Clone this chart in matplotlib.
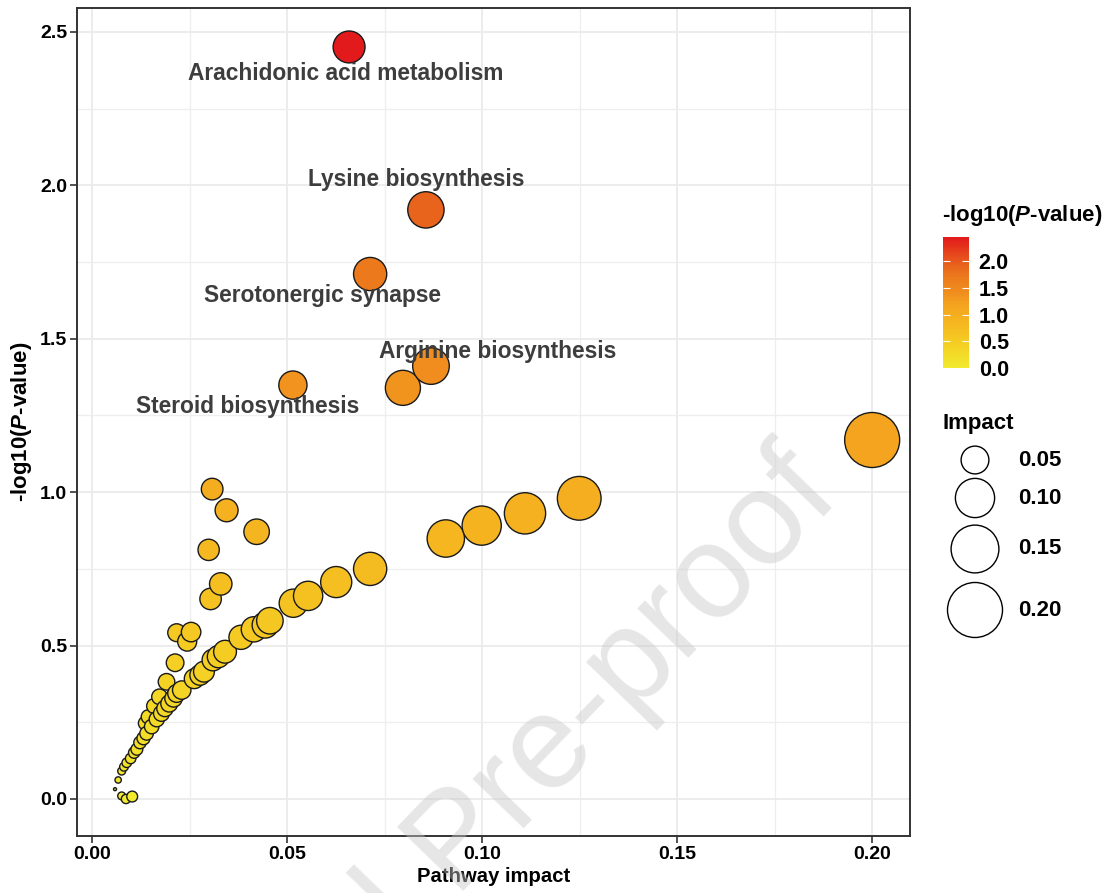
import numpy as np
import matplotlib.pyplot as plt
from matplotlib.colors import LinearSegmentedColormap, Normalize
from matplotlib.cm import ScalarMappable
from matplotlib.ticker import MultipleLocator

plt.rcParams['font.family'] = ['Liberation Sans', 'DejaVu Sans']
plt.rcParams['font.weight'] = 'bold'
plt.rcParams['mathtext.fontset'] = 'custom'
plt.rcParams['mathtext.rm'] = 'Liberation Sans:bold'
plt.rcParams['mathtext.bfit'] = 'Liberation Sans:italic:bold'

# pathway impact (x, also size) and -log10(P) (y, also colour)
impact = [0.0659, 0.0856, 0.0713, 0.0869, 0.0797, 0.0515, 0.2000,
          0.1249, 0.1110, 0.0999, 0.0907, 0.0713, 0.0626, 0.0554, 0.0516,
          0.0456, 0.0444, 0.0415, 0.0382, 0.0341, 0.0324, 0.0310, 0.0287,
          0.0277, 0.0262, 0.0230, 0.0217, 0.0209, 0.0198, 0.0187, 0.0178,
          0.0166, 0.0153,
          0.0308, 0.0345, 0.0422, 0.0299, 0.0330, 0.0304, 0.0217, 0.0254,
          0.0244, 0.0213, 0.0191, 0.0173, 0.0159, 0.0144, 0.0136,
          0.0140, 0.0132, 0.0123, 0.0115, 0.0108, 0.0099, 0.0089, 0.0082,
          0.0076, 0.0067, 0.0059, 0.0076, 0.0087, 0.0103]
logp = [2.451, 1.920, 1.711, 1.411, 1.340, 1.349, 1.170,
        0.980, 0.931, 0.891, 0.849, 0.750, 0.707, 0.662, 0.638,
        0.581, 0.567, 0.553, 0.527, 0.480, 0.464, 0.453, 0.415,
        0.404, 0.392, 0.355, 0.344, 0.328, 0.311, 0.295, 0.279,
        0.260, 0.236,
        1.010, 0.941, 0.871, 0.812, 0.701, 0.652, 0.542, 0.544,
        0.513, 0.444, 0.382, 0.333, 0.303, 0.268, 0.247,
        0.214, 0.198, 0.184, 0.162, 0.151, 0.132, 0.118, 0.105,
        0.091, 0.062, 0.032, 0.010, 0.000, 0.008]

label_names = ['Arachidonic acid metabolism', 'Lysine biosynthesis',
               'Serotonergic synapse', 'Arginine biosynthesis',
               'Steroid biosynthesis']
# where the label text sits (data units)
label_pos = [(0.0651, 2.363), (0.0831, 2.018), (0.0592, 1.640),
             (0.1041, 1.457), (0.0400, 1.278)]

legend_vals = [0.05, 0.10, 0.15, 0.20]

x = np.array(impact)
y = np.array(logp)

cmap = LinearSegmentedColormap.from_list('pv', [
    (0.00, '#F1EA2D'), (0.20, '#F5CC22'), (0.35, '#F5B520'),
    (0.48, '#F4A41F'), (0.56, '#F0901E'), (0.70, '#EC7A1D'),
    (0.78, '#E8641C'), (1.00, '#E31A1C')])
norm = Normalize(0, y.max())

xmin, xmax = x.min(), x.max()


def size_pt2(v):
    # ggplot-like area scale: diameter 3..55 px
    d = 3 + 52 * np.sqrt((np.asarray(v) - xmin) / (xmax - xmin))
    return (d * 0.72) ** 2


W, H = 1117, 893
fig = plt.figure(figsize=(W / 100, H / 100), dpi=100)
ax = fig.add_axes([77 / W, 1 - 836 / H, 833 / W, 828 / H])

order = np.argsort(x)
ax.scatter(x[order], y[order], s=size_pt2(x[order]), c=y[order], cmap=cmap,
           norm=norm, edgecolors='#1a1a1a', linewidths=1.0, zorder=3)

for name, (lx, ly) in zip(label_names, label_pos):
    ax.text(lx, ly, name, ha='center', va='center', fontsize=16.4,
            fontweight='bold', color='#3d3d3d', zorder=4)

ax.set_xlim(-0.00385, 0.2097)
ax.set_ylim(-0.1206, 2.578)
ax.set_xticks([0, 0.05, 0.10, 0.15, 0.20])
ax.set_xticklabels(['0.00', '0.05', '0.10', '0.15', '0.20'])
ax.set_yticks([0, 0.5, 1.0, 1.5, 2.0, 2.5])
ax.set_yticklabels(['0.0', '0.5', '1.0', '1.5', '2.0', '2.5'])
ax.xaxis.set_minor_locator(MultipleLocator(0.025))
ax.yaxis.set_minor_locator(MultipleLocator(0.25))
ax.set_axisbelow(True)
ax.grid(which='major', color='#EBEBEB', lw=1.3)
ax.grid(which='minor', color='#EEEEEE', lw=0.9)
ax.tick_params(which='minor', length=0)
ax.tick_params(which='major', length=5, width=1.2, color='#333333',
               labelsize=14, pad=2)
for t in ax.get_xticklabels() + ax.get_yticklabels():
    t.set_fontweight('bold')
for sp in ax.spines.values():
    sp.set_color('#333333')
    sp.set_linewidth(1.4)

ax.set_xlabel('Pathway impact', fontsize=14.6, fontweight='bold', labelpad=3)
ax.set_ylabel(r'-log10($\mathbfit{P}$-value)', fontsize=16,
              fontweight='bold', labelpad=4)

# colour bar
cax = fig.add_axes([943 / W, 1 - 368 / H, 26 / W, 131 / H])
cb = fig.colorbar(ScalarMappable(norm=norm, cmap=cmap), cax=cax)
cb.outline.set_visible(False)
cb.set_ticks([0, 0.5, 1.0, 1.5, 2.0])
cb.set_ticklabels(['0.0', '0.5', '1.0', '1.5', '2.0'])
cax.tick_params(left=True, right=True, direction='in', color='white',
                length=5, width=0.8, labelsize=15.5, pad=7)
for t in cax.get_yticklabels():
    t.set_fontweight('bold')
fig.text(942 / W, 1 - 215 / H, r'-log10($\mathbfit{P}$-value)',
         fontsize=16, fontweight='bold', ha='left', va='center')

# size legend, drawn in figure pixels
lax = fig.add_axes([0, 0, 1, 1])
lax.set_xlim(0, W)
lax.set_ylim(H, 0)
lax.axis('off')
lax.text(942, 423, 'Impact', fontsize=16, fontweight='bold',
         ha='left', va='center')
leg_y = [460, 498, 549, 610]
lax.scatter([975] * 4, leg_y, s=size_pt2(legend_vals), facecolors='none',
            edgecolors='black', linewidths=1.0)
for v, yy in zip(legend_vals, leg_y):
    lax.text(1018, yy, f'{v:.2f}', fontsize=16, fontweight='bold',
             ha='left', va='center')

# watermark
fig.text(460 / W, 1 - 845 / H, 'Journal Pre-proof', fontsize=96,
         fontweight='normal', color='#C8C8C8', alpha=0.45, rotation=46,
         ha='center', va='center', rotation_mode='anchor', zorder=10)

fig.savefig('out.png', dpi=100)
